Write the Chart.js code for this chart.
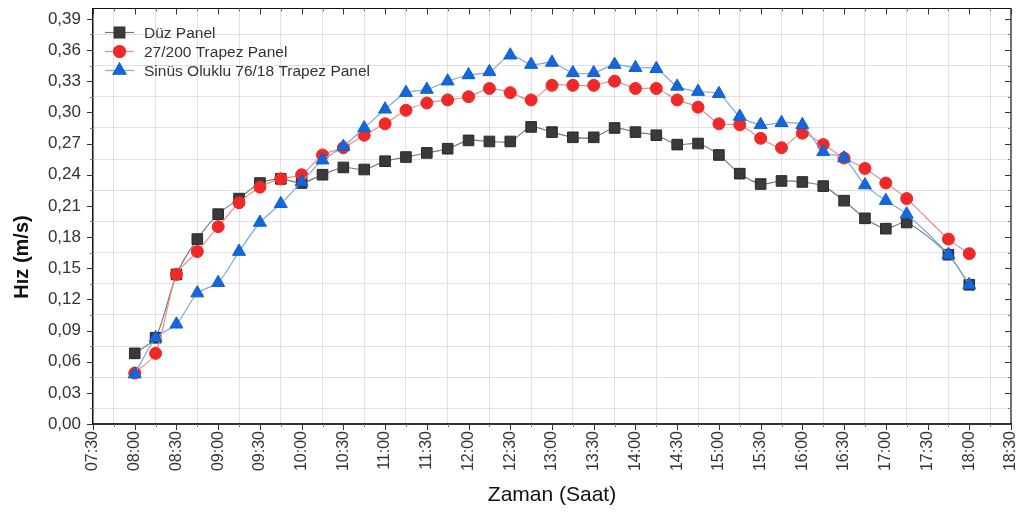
<!DOCTYPE html>
<html>
<head>
<meta charset="utf-8">
<script src="https://cdn.jsdelivr.net/npm/chart.js@4.4.1/dist/chart.umd.min.js"></script>
<style>
  html, body { margin: 0; padding: 0; background: #fff; }
  #kutu { width: 1026px; height: 515px; }
</style>
</head>
<body>
<div id="kutu"><canvas id="grafik"></canvas></div>
<script>
// olcum saatleri ve panel hizlari (m/s)
var saatler = ['08:00','08:15','08:30','08:45','09:00','09:15','09:30','09:45','10:00','10:15',
               '10:30','10:45','11:00','11:15','11:30','11:45','12:00','12:15','12:30','12:45',
               '13:00','13:15','13:30','13:45','14:00','14:15','14:30','14:45','15:00','15:15',
               '15:30','15:45','16:00','16:15','16:30','16:45','17:00','17:15','17:45','18:00'];

var duzPanel = [0.068,0.083,0.144,0.178,0.202,0.217,0.232,0.236,0.232,0.240,
                0.247,0.245,0.253,0.257,0.261,0.265,0.273,0.272,0.272,0.286,
                0.281,0.276,0.276,0.285,0.281,0.278,0.269,0.270,0.259,0.241,
                0.231,0.234,0.233,0.229,0.215,0.198,0.188,0.194,0.163,0.134];

var trapezPanel = [0.049,0.068,0.144,0.166,0.190,0.213,0.228,0.236,0.240,0.259,
                   0.266,0.278,0.289,0.302,0.309,0.312,0.315,0.323,0.319,0.312,
                   0.326,0.326,0.326,0.330,0.323,0.323,0.312,0.305,0.289,0.288,
                   0.275,0.266,0.280,0.269,0.256,0.246,0.232,0.217,0.178,0.164];

var sinusPanel = [0.048,0.083,0.096,0.126,0.136,0.166,0.194,0.212,0.233,0.254,
                  0.267,0.285,0.303,0.319,0.322,0.330,0.336,0.339,0.355,0.346,
                  0.348,0.338,0.338,0.346,0.343,0.342,0.325,0.320,0.318,0.296,
                  0.288,0.290,0.288,0.262,0.256,0.230,0.215,0.202,0.163,0.134];

var seriAdlari = ['Düz Panel', '27/200 Trapez Panel', 'Sinüs Oluklu 76/18 Trapez Panel'];

var yazi = '"Liberation Sans", Arial, sans-serif';

function dakika(s) {
    var p = s.split(':');
    return p[0] * 60 + p[1] * 1;
}

function saatYaz(v) {
    var h = Math.floor(v / 60), m = v % 60;
    return (h < 10 ? '0' : '') + h + ':' + (m < 10 ? '0' : '') + m;
}

function noktalar(degerler) {
    return saatler.map(function (s, i) { return { x: dakika(s), y: degerler[i] }; });
}

// ara cizgiler yarim adimlarda (15 dk ve 0,015)
function xAra(v) { return v % 30 === 15; }
function yAra(v) { return Math.round(v * 1000) % 30 === 15; }

// cerceve, ic/dis tikler, y basligi ve lejant
var cerceve = {
    id: 'cerceve',
    afterDraw: function (chart) {
        var ctx = chart.ctx, a = chart.chartArea;
        var xs = chart.scales.x, ys = chart.scales.y;
        ctx.save();

        ctx.strokeStyle = '#111';
        ctx.lineWidth = 1.2;
        ctx.beginPath();
        ctx.moveTo(a.left, a.top); ctx.lineTo(a.right, a.top);
        ctx.moveTo(a.right, a.top); ctx.lineTo(a.right, a.bottom);
        ctx.stroke();

        ctx.lineWidth = 1;
        xs.ticks.forEach(function (t) {
            var px = Math.round(xs.getPixelForValue(t.value)) + 0.5;
            var l = xAra(t.value) ? 3 : 6;
            ctx.strokeStyle = xAra(t.value) ? '#777' : '#333';
            ctx.beginPath();
            ctx.moveTo(px, a.bottom); ctx.lineTo(px, a.bottom + l);
            ctx.moveTo(px, a.top); ctx.lineTo(px, a.top + l);
            ctx.stroke();
        });
        ys.ticks.forEach(function (t) {
            var py = Math.round(ys.getPixelForValue(t.value)) + 0.5;
            var l = yAra(t.value) ? 3 : 6;
            ctx.strokeStyle = yAra(t.value) ? '#777' : '#333';
            ctx.beginPath();
            ctx.moveTo(a.left, py); ctx.lineTo(a.left - l, py);
            ctx.moveTo(a.right, py); ctx.lineTo(a.right - l, py);
            ctx.stroke();
        });

        // y ekseni basligi
        ctx.save();
        ctx.translate(22, 257);
        ctx.rotate(-Math.PI / 2);
        ctx.font = 'bold 20px ' + yazi;
        ctx.fillStyle = '#111';
        ctx.textAlign = 'center';
        ctx.textBaseline = 'middle';
        ctx.fillText('Hız (m/s)', 0, 0);
        ctx.restore();

        // lejant
        ctx.font = '15.5px ' + yazi;
        ctx.textBaseline = 'middle';
        ctx.textAlign = 'left';
        chart.data.datasets.forEach(function (ds, i) {
            var y = a.top + 24 + i * 19;
            ctx.strokeStyle = ds.borderColor;
            ctx.lineWidth = 1.2;
            ctx.beginPath();
            ctx.moveTo(105, y); ctx.lineTo(134, y);
            ctx.stroke();
            ctx.fillStyle = ds.pointBackgroundColor;
            ctx.strokeStyle = ds.pointBorderColor;
            Chart.helpers.drawPoint(ctx, {
                pointStyle: ds.pointStyle, radius: ds.pointRadius, rotation: 0, borderWidth: 1
            }, 119.5, y);
            ctx.fillStyle = '#333';
            ctx.fillText(ds.label, 144, y + 1);
        });
        ctx.restore();
    }
};

new Chart(document.getElementById('grafik'), {
    type: 'line',
    data: {
        datasets: [{
            label: seriAdlari[0],
            data: noktalar(duzPanel),
            borderColor: '#7a7a7a',
            borderWidth: 1.2,
            pointStyle: 'rect',
            pointRadius: 7.5,
            pointBackgroundColor: '#3a3a3a',
            pointBorderColor: '#2a2a2a',
            pointBorderWidth: 1,
            tension: 0.25,
            order: 2
        }, {
            label: seriAdlari[1],
            data: noktalar(trapezPanel),
            borderColor: '#f08a8a',
            borderWidth: 1.2,
            pointStyle: 'circle',
            pointRadius: 6,
            pointBackgroundColor: '#f02828',
            pointBorderColor: '#e82a2a',
            pointBorderWidth: 1,
            tension: 0.25,
            order: 1
        }, {
            label: seriAdlari[2],
            data: noktalar(sinusPanel),
            borderColor: '#79a9e0',
            borderWidth: 1.2,
            pointStyle: 'triangle',
            pointRadius: 7.5,
            pointBackgroundColor: '#1566d8',
            pointBorderColor: '#1060d0',
            pointBorderWidth: 1,
            tension: 0.25,
            order: 0
        }]
    },
    options: {
        responsive: true,
        maintainAspectRatio: false,
        animation: false,
        layout: { padding: { top: 7, right: 15, left: 0, bottom: 0 } },
        plugins: {
            legend: { display: false },
            tooltip: { enabled: false }
        },
        scales: {
            x: {
                type: 'linear',
                min: 450,
                max: 1110,
                afterFit: function (s) { s.height = 91; s.paddingLeft = 0; s.paddingRight = 0; },
                ticks: {
                    stepSize: 15,
                    maxTicksLimit: 100,
                    autoSkip: false,
                    minRotation: 90,
                    maxRotation: 90,
                    padding: 7,
                    color: '#333',
                    font: { family: yazi, size: 16 },
                    callback: function (v) { return xAra(v) ? '' : saatYaz(v); }
                },
                grid: {
                    drawTicks: false,
                    color: function (c) { return c.tick && xAra(c.tick.value) ? '#e2e2e2' : 'rgba(0,0,0,0)'; },
                    lineWidth: 1
                },
                border: { color: '#333', width: 2 },
                title: {
                    display: true,
                    text: 'Zaman (Saat)',
                    color: '#111',
                    font: { family: yazi, size: 21 },
                    padding: { top: 7, bottom: 7 }
                }
            },
            y: {
                min: 0,
                max: 0.4,
                afterFit: function (s) { s.width = 93; s.paddingTop = 0; s.paddingBottom = 0; },
                ticks: {
                    stepSize: 0.015,
                    includeBounds: false,
                    maxTicksLimit: 100,
                    autoSkip: false,
                    padding: 12,
                    color: '#333',
                    font: { family: yazi, size: 17 },
                    callback: function (v) {
                        return Math.round(v * 1000) % 30 === 0 ? v.toFixed(2).replace('.', ',') : '';
                    }
                },
                grid: {
                    drawTicks: false,
                    color: function (c) { return c.tick && yAra(c.tick.value) ? '#e2e2e2' : 'rgba(0,0,0,0)'; },
                    lineWidth: 1
                },
                border: { color: '#111', width: 1.5 }
            }
        }
    },
    plugins: [cerceve]
});
</script>
</body>
</html>
